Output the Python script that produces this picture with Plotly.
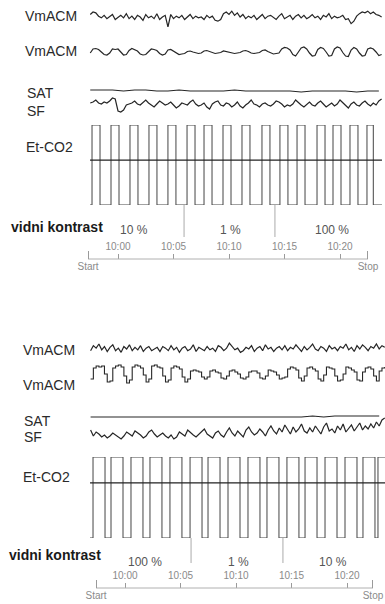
import plotly.graph_objects as go

W, H = 385, 604

# ------------------------------------------------------------------ data
STEP = 0.25                      # min between samples
# ---- upper recording (10 % -> 1 % -> 100 %)
TOP_T0 = -2.5                    # first sample, min relative to 10:00
TOP_VMACM1 = [63, 66, 65, 61, 59, 62, 58, 61, 63, 57,
              60, 62, 59, 64, 58, 61, 57, 62, 60, 56,
              63, 59, 61, 58, 64, 57, 60, 62, 48, 63,
              58, 61, 59, 62, 57, 60, 63, 58, 61, 59,
              60, 57, 62, 59, 61, 56, 55, 57, 64, 66,
              63, 67, 62, 65, 60, 63, 58, 61, 59, 62,
              57, 60, 63, 58, 61, 62, 59, 57, 61, 64,
              58, 60, 62, 57, 61, 63, 59, 62, 58, 60,
              63, 59, 61, 57, 62, 60, 64, 58, 61, 59,
              60, 62, 57, 58, 52, 55, 61, 64, 66, 65,
              67, 64, 66, 63, 62, 60]
TOP_VMACM2 = [58, 66, 67, 65, 60, 55, 54,
              58, 66, 65, 66, 59, 54, 55,
              63, 67, 64, 62, 56, 54, 55,
              60, 66, 65, 63, 57, 54, 56,
              64, 65, 62, 58, 55, 56, 57,
              61, 62, 60, 58, 57, 58,
              62, 63, 61, 59, 57, 58, 59,
              62, 61, 60, 58, 57, 58,
              59, 62, 63, 61, 58, 57, 58, 59,
              63, 64, 61, 58, 56, 57, 58,
              66, 69, 68, 64, 55, 52,
              60, 68, 70, 66, 58, 52, 53,
              65, 69, 67, 60, 52, 53,
              66, 70, 68, 59, 52, 51,
              64, 69, 66, 58, 52, 53,
              66, 68, 66, 60, 53, 55]
TOP_SAT = [98, 98, 98, 97, 98, 98, 97, 97, 98, 97, 97, 97, 97, 98,
           97, 97, 97, 97, 97, 96, 97, 97, 97, 97, 96, 97, 97]   # 1-min samples
TOP_SF = [70, 71, 73, 70, 69, 71, 70, 72, 75, 74,
          62, 61, 63, 68, 69, 70, 72, 69, 68, 71,
          73, 70, 68, 66, 69, 72, 70, 68, 69, 71,
          68, 65, 67, 70, 69, 68, 71, 73, 69, 67,
          68, 70, 66, 64, 69, 71, 72, 68, 67, 70,
          69, 66, 68, 71, 67, 65, 68, 70, 73, 69,
          68, 66, 69, 70, 68, 67, 69, 72, 71, 69,
          66, 68, 67, 69, 73, 70, 68, 66, 69, 71,
          68, 67, 70, 72, 69, 66, 68, 70, 67, 69,
          73, 70, 68, 65, 69, 71, 68, 67, 70, 72,
          69, 67, 70, 68, 72, 74]
TOP_CO2_START, TOP_CO2_END = -2.52, 23.78
TOP_CO2_RISE = [-2.34, -0.63, 1.08, 2.79, 4.50, 6.22, 7.75, 9.46,
                11.17, 12.97, 14.59, 16.13, 17.93, 19.37, 20.90, 22.43]
TOP_CO2_FALL = [-1.62, 0.09, 1.80, 3.51, 5.22, 6.94, 8.47, 10.18,
                11.89, 13.69, 15.31, 16.85, 18.65, 20.09, 21.62, 23.00]
TOP_CO2_REF = 2.8
TOP_CHANGES = [5.95, 14.14]
TOP_CONTRAST = ["10 %", "1 %", "100 %"]
TOP_CONTRAST_T = [1.44, 10.1, 19.3]
TOP_START, TOP_STOP = -2.70, 22.52

# ---- lower recording (100 % -> 1 % -> 10 %)
BOT_T0 = -3.1
BOT_VMACM1 = [58, 64, 61, 66, 59, 63, 57, 62, 65, 58,
              61, 56, 63, 60, 65, 58, 62, 59, 64, 57,
              61, 63, 58, 60, 62, 57, 63, 61, 58, 64,
              59, 62, 56, 61, 63, 58, 60, 65, 57, 62,
              60, 58, 63, 59, 61, 57, 64, 62, 58, 61,
              67, 63, 59, 61, 56, 58, 62, 60, 64, 57,
              61, 63, 58, 65, 60, 62, 57, 61, 63, 59,
              64, 58, 62, 60, 65, 61, 57, 63, 59, 62,
              66, 60, 58, 63, 61, 57, 64, 60, 62, 58,
              63, 61, 66, 59, 62, 57, 64, 60, 65, 62,
              58, 63, 61, 66, 60, 64, 62]
BOT_VMACM2 = [55, 66, 68, 67, 68, 60, 52, 53,
              66, 68, 69, 67, 58, 51, 54,
              67, 69, 68, 66, 59, 52, 55,
              68, 69, 67, 66, 58, 52, 54,
              66, 68, 67, 65, 57, 52, 55,
              63, 64, 63, 62, 57, 55,
              57, 63, 64, 62, 61, 56, 55,
              58, 63, 64, 62, 60, 56, 55,
              57, 62, 63, 63, 61, 56, 55,
              58, 64, 63, 62, 59, 55, 56,
              57,
              65, 67, 66, 64, 56, 53,
              58, 66, 67, 65, 63, 55, 53,
              59, 67, 66, 65, 58, 53, 54,
              60, 67, 66, 64, 62, 54, 53,
              62, 66, 67, 65, 58, 53,
              63, 66, 67]
BOT_SAT = [97, 97, 97, 97, 97, 97, 97, 97, 97, 97, 97, 97, 97, 97,
           97, 97, 97, 97, 97, 97, 98, 97, 98, 98, 98, 98, 98]   # 1-min samples
BOT_SF = [72, 66, 70, 68, 65, 67, 64, 66, 69, 67,
          65, 63, 66, 70, 68, 66, 71, 69, 67, 64,
          66, 70, 72, 68, 65, 67, 69, 66, 64, 67,
          63, 65, 70, 68, 66, 72, 69, 67, 65, 68,
          70, 73, 68, 66, 64, 69, 71, 67, 65, 70,
          74, 69, 66, 71, 68, 65, 72, 75, 70, 67,
          69, 73, 70, 66, 72, 76, 71, 68, 74, 70,
          77, 72, 68, 75, 70, 73, 78, 71, 69, 74,
          70, 76, 72, 68, 75, 79, 71, 73, 69, 76,
          72, 78, 70, 74, 77, 71, 75, 79, 72, 76,
          73, 78, 74, 80, 76, 82, 84]
BOT_CO2_START, BOT_CO2_END = -3.15, 23.6
BOT_CO2_RISE = [-2.88, -1.26, 0.54, 2.25, 4.05, 5.86, 7.48, 9.28,
                11.08, 12.79, 14.59, 16.22, 18.02, 19.82, 21.44, 22.79]
BOT_CO2_FALL = [-1.80, -0.18, 1.62, 3.33, 5.13, 6.94, 8.56, 10.36,
                12.16, 13.87, 15.67, 17.30, 19.10, 20.90, 22.52, 23.87]
BOT_CO2_REF = 3.4
BOT_CHANGES = [5.95, 14.23]
BOT_CONTRAST = ["100 %", "1 %", "10 %"]
BOT_CONTRAST_T = [1.8, 10.2, 18.7]
BOT_START, BOT_STOP = -2.61, 22.34

CO2_HIGH, CO2_LOW = 5.0, 0.0
TIME_TICKS = [0, 5, 10, 15, 20]
TIME_LABELS = ["10:00", "10:05", "10:10", "10:15", "10:20"]

# ------------------------------------------------------------------ helpers
PX_PER_MIN = 11.1
LINE = dict(color="#262626", width=1.2)
STEPPED = dict(color="#262626", width=1.1, shape="hv")
THIN = dict(color="#444444", width=1)


def ydom(top_px, bot_px):
    return [1 - bot_px / H, 1 - top_px / H]


def times(t0, n, step):
    return [t0 + i * step for i in range(n)]


def square(start, end, rises, falls):
    xs, ys = [start], [CO2_LOW]
    for r, f in zip(rises, falls):
        xs += [r, r, f, f]
        ys += [CO2_LOW, CO2_HIGH, CO2_HIGH, CO2_LOW]
    xs.append(end)
    ys.append(CO2_LOW)
    return xs, ys


fig = go.Figure()


def add(x, y, xa, ya, line=LINE):
    fig.add_trace(go.Scatter(x=x, y=y, xaxis=xa, yaxis=ya, mode="lines",
                             line=line, hoverinfo="skip", showlegend=False))


def panel(xa, xs, ya, t0, v1, v2, sat, sf, c_start, c_end, rises, falls,
          ref, changes, start, stop, v2_line):
    add(times(t0, len(v1), STEP), v1, xa, ya[0])
    add(times(t0, len(v2), STEP), v2, xa, ya[1], v2_line)
    add(times(t0, len(sat), 1.0), sat, xa, ya[2])
    add(times(t0, len(sf), STEP), sf, xa, ya[3])
    cx, cy = square(c_start, c_end, rises, falls)
    add(cx, cy, xa, ya[4], THIN)
    add([c_start, c_end], [ref, ref], xa, ya[4], dict(color="#222222", width=1.3))
    mx, my = [], []
    for c in changes:
        mx += [c, c, None]
        my += [0, 1, None]
    add(mx, my, xa, ya[5], dict(color="#aaaaaa", width=1))
    add([start, stop], [0, 0], xs, ya[6], dict(color="#b0b0b0", width=1))


panel("x", "x3", ["y", "y2", "y3", "y4", "y5", "y6", "y7"], TOP_T0,
      TOP_VMACM1, TOP_VMACM2, TOP_SAT, TOP_SF, TOP_CO2_START, TOP_CO2_END,
      TOP_CO2_RISE, TOP_CO2_FALL, TOP_CO2_REF, TOP_CHANGES, TOP_START, TOP_STOP,
      LINE)
panel("x2", "x4", ["y8", "y9", "y10", "y11", "y12", "y13", "y14"], BOT_T0,
      BOT_VMACM1, BOT_VMACM2, BOT_SAT, BOT_SF, BOT_CO2_START, BOT_CO2_END,
      BOT_CO2_RISE, BOT_CO2_FALL, BOT_CO2_REF, BOT_CHANGES, BOT_START, BOT_STOP,
      STEPPED)

top_range = [-118 / PX_PER_MIN, (W - 118) / PX_PER_MIN]
bot_range = [-125 / PX_PER_MIN, (W - 125) / PX_PER_MIN]

TICKFONT = dict(family="Liberation Sans, Arial", size=10, color="#8a8a8a")


def time_axis(rng, pos_px):
    return dict(domain=[0, 1], range=rng, anchor="free", position=1 - pos_px / H,
                side="top", showgrid=False, zeroline=False, showline=False,
                ticks="outside", ticklen=5, tickwidth=1, tickcolor="#9a9a9a",
                tickvals=TIME_TICKS, ticktext=TIME_LABELS, tickfont=TICKFONT,
                fixedrange=True)


def startstop_axis(rng, pos_px, over, start, stop):
    return dict(domain=[0, 1], range=rng, anchor="free", position=1 - pos_px / H,
                overlaying=over, side="bottom", showgrid=False, zeroline=False,
                showline=False, ticks="inside", ticklen=8, tickwidth=1,
                tickcolor="#9a9a9a", tickvals=[start, stop],
                ticktext=["Start", "Stop"], tickfont=TICKFONT, fixedrange=True)


def yax(top_px, bot_px, rng, xa):
    return dict(domain=ydom(top_px, bot_px), range=rng, anchor=xa,
                visible=False, fixedrange=True)


layout = dict(
    width=W, height=H, margin=dict(l=0, r=0, t=0, b=0),
    paper_bgcolor="white", plot_bgcolor="rgba(0,0,0,0)", showlegend=False,
    xaxis=time_axis(top_range, 259),
    xaxis2=time_axis(bot_range, 588),
    xaxis3=startstop_axis(top_range, 259, "x", TOP_START, TOP_STOP),
    xaxis4=startstop_axis(bot_range, 588, "x2", BOT_START, BOT_STOP),
    yaxis=yax(7, 27, [48, 72], "x"),
    yaxis2=yax(42, 62, [40, 80], "x"),
    yaxis3=yax(86, 96, [92, 102], "x"),
    yaxis4=yax(88, 120, [53, 85], "x"),
    yaxis5=yax(125, 205, [0, 5], "x"),
    yaxis6=yax(205, 237, [0, 1], "x"),
    yaxis7=yax(254, 264, [-1, 1], "x3"),
    yaxis8=yax(339, 359, [48, 72], "x2"),
    yaxis9=yax(360, 388, [46, 74], "x2"),
    yaxis10=yax(412, 422, [92, 102], "x2"),
    yaxis11=yax(414, 446, [56, 88], "x2"),
    yaxis12=yax(457, 538, [0, 5], "x2"),
    yaxis13=yax(538, 563, [0, 1], "x2"),
    yaxis14=yax(583, 593, [-1, 1], "x4"),
)
fig.update_layout(**layout)

LABEL_FONT = dict(family="Liberation Sans, Arial", size=14, color="#2a2a2a")
BOLD_FONT = dict(family="Liberation Sans, Arial", size=14, color="#1a1a1a")
CONTRAST_FONT = dict(family="Liberation Sans, Arial", size=12, color="#555555")

ann = []


def label(text, x_px, y_px, font=LABEL_FONT):
    ann.append(dict(text=text, x=x_px / W, y=1 - y_px / H, xref="paper",
                    yref="paper", xanchor="left", yanchor="middle",
                    showarrow=False, font=font))


for txt, x, y in [("VmACM", 23, 16), ("VmACM", 23, 51), ("SAT", 25, 93),
                  ("SF", 25, 111), ("Et-CO2", 24, 147),
                  ("VmACM", 21, 350), ("VmACM", 21, 385), ("SAT", 22, 421),
                  ("SF", 22, 437), ("Et-CO2", 21, 477)]:
    label(txt, x, y)
label("<b>vidni kontrast</b>", 9, 227, BOLD_FONT)
label("<b>vidni kontrast</b>", 7, 555, BOLD_FONT)

for txt, t in zip(TOP_CONTRAST, TOP_CONTRAST_T):
    ann.append(dict(text=txt, x=t, y=1 - 230 / H, xref="x", yref="paper",
                    xanchor="center", yanchor="middle", showarrow=False,
                    font=CONTRAST_FONT))
for txt, t in zip(BOT_CONTRAST, BOT_CONTRAST_T):
    ann.append(dict(text=txt, x=t, y=1 - 562 / H, xref="x2", yref="paper",
                    xanchor="center", yanchor="middle", showarrow=False,
                    font=CONTRAST_FONT))

fig.update_layout(annotations=ann)
fig.write_html("out.html")
